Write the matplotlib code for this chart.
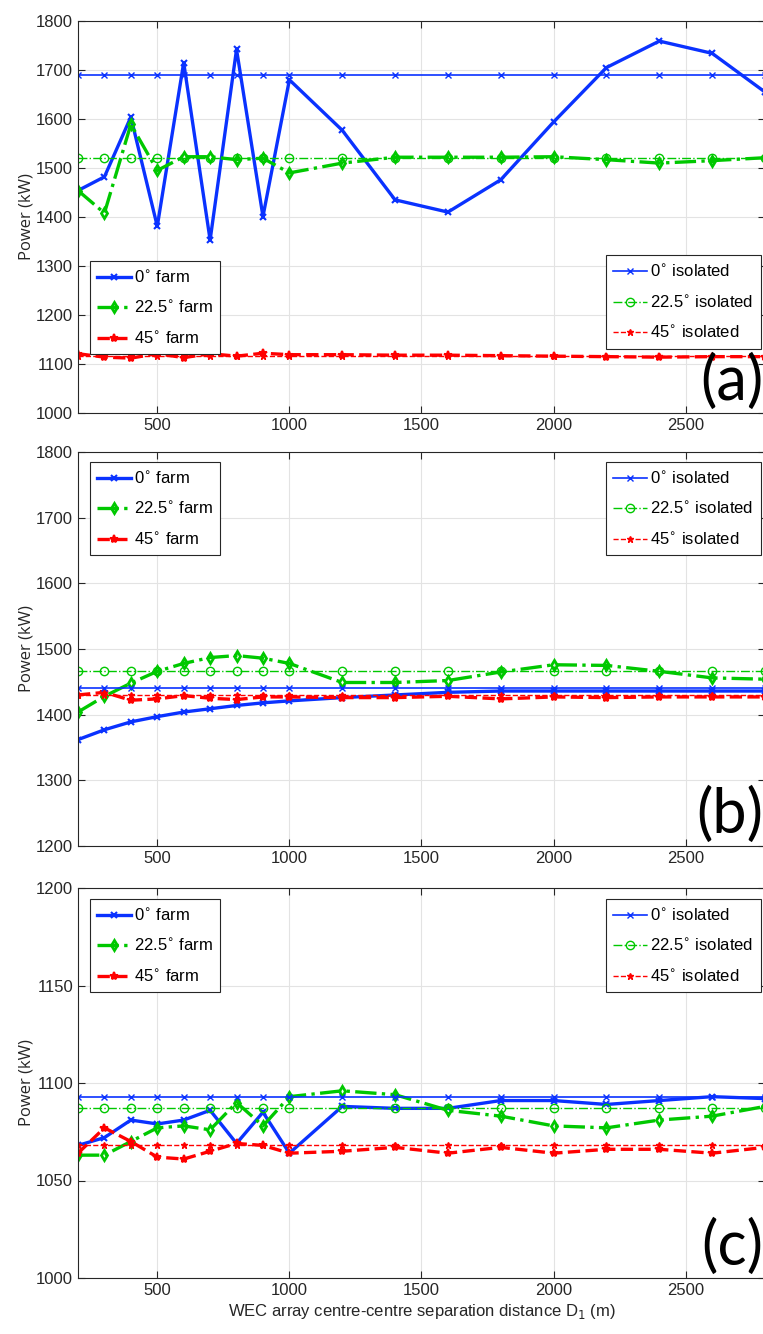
import numpy as np
import matplotlib
matplotlib.use('Agg')
import matplotlib.pyplot as plt

# separation distance D1 (m)
x = [200, 300, 400, 500, 600, 700, 800, 900, 1000,
     1200, 1400, 1600, 1800, 2000, 2200, 2400, 2600, 2800]

# (a)
a_farm0 = [1454, 1482, 1604, 1381, 1715, 1353, 1742, 1401, 1680,
           1577, 1435, 1410, 1476, 1594, 1705, 1759, 1734, 1655]
a_farm22 = [1454, 1408, 1589, 1495, 1523, 1523, 1517, 1520, 1490,
            1510, 1522, 1522, 1522, 1523, 1517, 1510, 1515, 1521]
a_farm45 = [1121, 1114, 1112, 1121, 1113, 1121, 1116, 1122, 1119,
            1119, 1118, 1118, 1117, 1116, 1115, 1114, 1115, 1115]
a_iso0 = [1690] * len(x)
a_iso22 = [1520] * len(x)
a_iso45 = [1117] * len(x)

# (b)
b_farm0 = [1362, 1377, 1389, 1397, 1404, 1409, 1414, 1418, 1421,
           1426, 1430, 1434, 1436, 1436, 1436, 1436, 1436, 1436]
b_farm22 = [1404, 1428, 1448, 1466, 1478, 1487, 1490, 1486, 1478,
            1449, 1449, 1452, 1465, 1476, 1475, 1466, 1456, 1454]
b_farm45 = [1430, 1434, 1422, 1424, 1429, 1425, 1423, 1427, 1427,
            1426, 1426, 1428, 1424, 1427, 1426, 1427, 1427, 1427]
b_iso0 = [1440] * len(x)
b_iso22 = [1466] * len(x)
b_iso45 = [1430] * len(x)

# (c)
c_farm0 = [1068, 1072, 1081, 1079, 1081, 1086, 1069, 1085, 1064,
           1088, 1087, 1087, 1091, 1091, 1089, 1091, 1093, 1092]
c_farm22 = [1063, 1063, 1070, 1077, 1078, 1076, 1090, 1078, 1093,
            1096, 1094, 1086, 1083, 1078, 1077, 1081, 1083, 1088]
c_farm45 = [1064, 1077, 1070, 1062, 1061, 1065, 1069, 1068, 1064,
            1065, 1067, 1064, 1067, 1064, 1066, 1066, 1064, 1067]
c_iso0 = [1093] * len(x)
c_iso22 = [1087] * len(x)
c_iso45 = [1068] * len(x)

panels = [
    ('(a)', a_farm0, a_farm22, a_farm45, a_iso0, a_iso22, a_iso45, (1000, 1800), 100, 0.388, 0.402),
    ('(b)', b_farm0, b_farm22, b_farm45, b_iso0, b_iso22, b_iso45, (1200, 1800), 100, 0.975, 0.975),
    ('(c)', c_farm0, c_farm22, c_farm45, c_iso0, c_iso22, c_iso45, (1000, 1200), 50, 0.972, 0.972),
]

blue = '#0a32ff'
green = '#00c800'
red = '#ff0000'
plt.rcParams['font.family'] = ['Liberation Sans Narrow', 'Liberation Sans', 'DejaVu Sans']

fig = plt.figure(figsize=(7.63, 13.34), dpi=100)

# axes boxes in pixels (top, bottom)
boxes = [(21, 413), (452, 846), (888, 1278)]
W, H = 763, 1334
left = 78

for (tag, f0, f22, f45, i0, i22, i45, ylim, ystep, ly_l, ly_r), (top, bot) in zip(panels, boxes):
    ax = fig.add_axes([left / W, 1 - bot / H, (W - left + 2) / W, (bot - top) / H])

    h1, = ax.plot(x, f0, '-', color=blue, lw=2.4, marker='x', ms=5, mew=1.5)
    h2, = ax.plot(x, f22, '-.', color=green, lw=2.4, marker='d', ms=5, mfc='none', mew=2)
    h3, = ax.plot(x, f45, '--', color=red, lw=2.4, marker='*', ms=6, mew=1.5)
    h4, = ax.plot(x, i0, '-', color=blue, lw=1.2, marker='x', ms=5, mew=1)
    h5, = ax.plot(x, i22, '-.', color=green, lw=1.0, marker='o', ms=6, mfc='none', mew=1)
    h6, = ax.plot(x, i45, '--', color=red, lw=1.0, marker='*', ms=5, mew=1)

    ax.set_xlim(200, 2800)
    ax.set_ylim(*ylim)
    ax.set_xticks([500, 1000, 1500, 2000, 2500])
    ax.set_yticks(np.arange(ylim[0], ylim[1] + 1, ystep))
    ax.grid(True, color='#e3e3e3', lw=0.8)
    ax.set_axisbelow(True)
    ax.tick_params(direction='in', length=5, top=True, right=True, labelsize=12,
                   colors='#262626', width=0.8)
    for s in ax.spines.values():
        s.set_color('#262626')
        s.set_linewidth(0.8)
    ax.set_ylabel('Power (kW)', family=['Open Sans', 'DejaVu Sans'], fontsize=12,
                  color='#262626', labelpad=1)

    leg1 = ax.legend([h1, h2, h3],
                     [r'0$^{\circ}$ farm', r'22.5$^{\circ}$ farm', r'45$^{\circ}$ farm'],
                     loc='upper left', bbox_to_anchor=(0.017, ly_l), fontsize=12,
                     fancybox=False, framealpha=1, edgecolor='#262626',
                     handlelength=2.0, handletextpad=0.2, borderpad=0.45,
                     labelspacing=0.82, borderaxespad=0)
    leg1.get_frame().set_linewidth(0.8)
    ax.add_artist(leg1)
    leg2 = ax.legend([h4, h5, h6],
                     [r'0$^{\circ}$ isolated', r'22.5$^{\circ}$ isolated', r'45$^{\circ}$ isolated'],
                     loc='upper right', bbox_to_anchor=(0.994, ly_r), fontsize=12,
                     fancybox=False, framealpha=1, edgecolor='#262626',
                     handlelength=2.0, handletextpad=0.2, borderpad=0.45,
                     labelspacing=0.82, borderaxespad=0)
    leg2.get_frame().set_linewidth(0.8)

    ax.text(0.998, 0.005, tag, transform=ax.transAxes, ha='right', va='bottom',
            fontsize=44, family=['Lato', 'DejaVu Sans'], color='black')

ax.set_xlabel(r'WEC array centre-centre separation distance D$_1$ (m)',
              fontsize=12, color='#262626', labelpad=3)

fig.savefig('out.png', dpi=100)
